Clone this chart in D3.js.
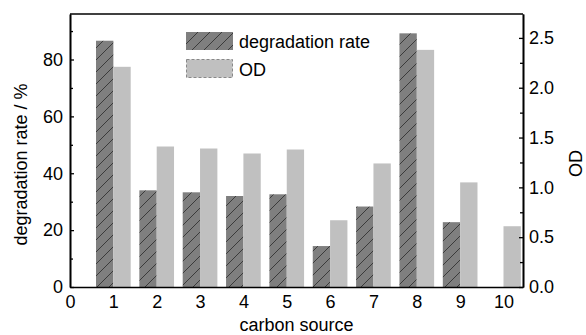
<!DOCTYPE html>
<html>
<head>
<meta charset="utf-8">
<script src="https://cdn.jsdelivr.net/npm/d3@7"></script>
<style>
body { margin: 0; background: #fff; }
text { font-family: "Liberation Sans", Arial, sans-serif; fill: #000; }
</style>
</head>
<body>
<svg id="chart" width="586" height="335"></svg>
<script>
// values
var sources = [1, 2, 3, 4, 5, 6, 7, 8, 9, 10];
var degradation = [86.6, 34.0, 33.3, 32.0, 32.6, 14.4, 28.3, 89.2, 22.8, 0];
var od = [2.21, 1.41, 1.39, 1.34, 1.38, 0.67, 1.24, 2.38, 1.05, 0.61];
var leftTicks = [0, 20, 40, 60, 80];
var rightTicks = [0, 0.5, 1.0, 1.5, 2.0, 2.5];
var xTicks = [0, 1, 2, 3, 4, 5, 6, 7, 8, 9, 10];

var margin = {left: 70, right: 63, top: 14, bottom: 48};
var W = 586, H = 335;
var svg = d3.select('#chart');

var x = d3.scaleLinear().domain([0, 10.45]).range([margin.left, W - margin.right]);
var yL = d3.scaleLinear().domain([0, 96]).range([H - margin.bottom, margin.top]);
var yR = d3.scaleLinear().domain([0, 2.74]).range([H - margin.bottom, margin.top]);
var bw = x(0.4) - x(0);

// hatch pattern
var defs = svg.append('defs');
var pat = defs.append('pattern')
    .attr('id', 'hatch')
    .attr('patternUnits', 'userSpaceOnUse')
    .attr('width', 12).attr('height', 12);
pat.append('rect').attr('width', 12).attr('height', 12).attr('fill', '#7f7f7f');
pat.append('path')
    .attr('d', 'M-3,3 L3,-3 M0,12 L12,0 M9,15 L15,9')
    .attr('stroke', '#2a2a2a').attr('stroke-width', 0.8);

// bars
svg.append('g').selectAll('rect')
    .data(sources)
    .enter().append('rect')
    .attr('x', function(d) { return x(d) - bw; })
    .attr('y', function(d, i) { return yL(degradation[i]); })
    .attr('width', bw)
    .attr('height', function(d, i) { return yL(0) - yL(degradation[i]); })
    .attr('fill', 'url(#hatch)');

svg.append('g').selectAll('rect')
    .data(sources)
    .enter().append('rect')
    .attr('x', function(d) { return x(d); })
    .attr('y', function(d, i) { return yR(od[i]); })
    .attr('width', bw)
    .attr('height', function(d, i) { return yR(0) - yR(od[i]); })
    .attr('fill', '#c0c0c0');

// axes
var fs = '18px';
var gL = svg.append('g').attr('transform', 'translate(' + margin.left + ',0)')
    .call(d3.axisLeft(yL).tickValues(leftTicks).tickSizeInner(-4).tickSizeOuter(0).tickPadding(7));
var gLm = svg.append('g').attr('transform', 'translate(' + margin.left + ',0)')
    .call(d3.axisLeft(yL).tickValues([10, 30, 50, 70, 90]).tickSizeInner(-3).tickSizeOuter(0).tickFormat(''));
var gR = svg.append('g').attr('transform', 'translate(' + (W - margin.right) + ',0)')
    .call(d3.axisRight(yR).tickValues(rightTicks).tickSizeInner(-4).tickSizeOuter(0).tickPadding(6)
        .tickFormat(d3.format('.1f')));
var gRm = svg.append('g').attr('transform', 'translate(' + (W - margin.right) + ',0)')
    .call(d3.axisRight(yR).tickValues([0.25, 0.75, 1.25, 1.75, 2.25]).tickSizeInner(-3).tickSizeOuter(0).tickFormat(''));
var gB = svg.append('g').attr('transform', 'translate(0,' + (H - margin.bottom) + ')')
    .call(d3.axisBottom(x).tickValues(xTicks).tickSize(0).tickPadding(8).tickFormat(d3.format('d')));

[gL, gLm, gR, gRm, gB].forEach(function(g) {
    g.selectAll('path.domain').attr('stroke', '#000').attr('stroke-width', 1.6);
    g.selectAll('line').attr('stroke', '#000').attr('stroke-width', 1.3);
    g.selectAll('text').style('font-size', fs).attr('fill', '#000');
});

// top frame line
svg.append('line')
    .attr('x1', margin.left).attr('x2', W - margin.right)
    .attr('y1', margin.top).attr('y2', margin.top)
    .attr('stroke', '#000').attr('stroke-width', 1.6);

// axis titles
svg.append('text')
    .attr('transform', 'translate(27,' + ((margin.top + H - margin.bottom) / 2 + 14) + ') rotate(-90)')
    .attr('text-anchor', 'middle')
    .style('font-size', '18px')
    .text('degradation rate / %');
svg.append('text')
    .attr('transform', 'translate(582,' + ((margin.top + H - margin.bottom) / 2 + 13) + ') rotate(-90)')
    .attr('text-anchor', 'middle')
    .style('font-size', '18px')
    .text('OD');
svg.append('text')
    .attr('x', (margin.left + W - margin.right) / 2)
    .attr('y', 331)
    .attr('text-anchor', 'middle')
    .style('font-size', '18px')
    .text('carbon source');

// legend
var leg = svg.append('g').attr('transform', 'translate(186,32)');
leg.append('rect').attr('x', 0).attr('y', 0).attr('width', 47).attr('height', 18)
    .attr('fill', 'url(#hatch)');
leg.append('rect').attr('x', 0.5).attr('y', 27.5).attr('width', 46).attr('height', 18)
    .attr('fill', '#c0c0c0').attr('stroke', '#888').attr('stroke-width', 1)
    .attr('stroke-dasharray', '3,2');
leg.append('text').attr('x', 53).attr('y', 16).style('font-size', '18px').text('degradation rate');
leg.append('text').attr('x', 53).attr('y', 44).style('font-size', '18px').text('OD');
</script>
</body>
</html>
